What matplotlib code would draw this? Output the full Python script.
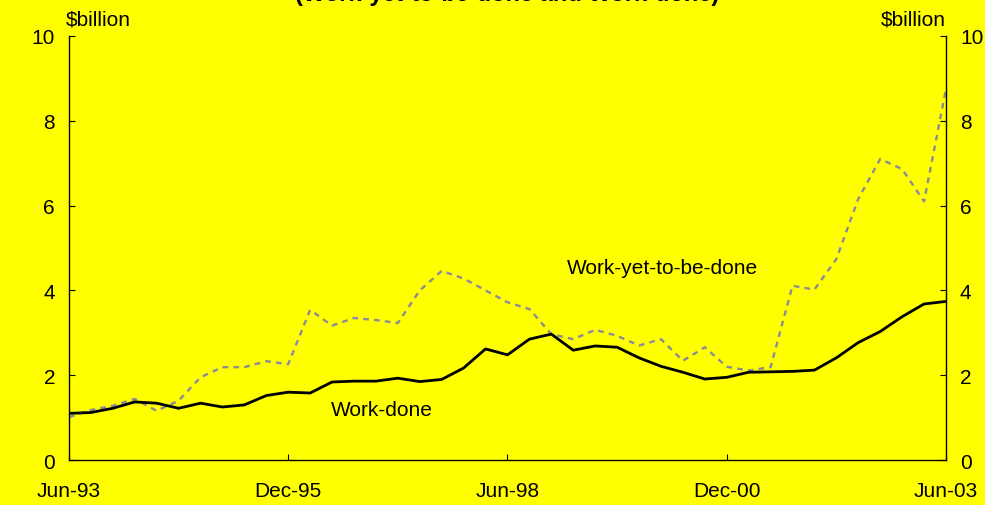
import numpy as np
import pandas as pd
import matplotlib
matplotlib.use("Agg")
import matplotlib.pyplot as plt

plt.rcParams['font.family'] = ['Liberation Sans', 'DejaVu Sans']

# quarterly, Jun-93 .. Jun-03
quarters = pd.period_range('1993Q2', '2003Q2', freq='Q')
work_done = [1.10, 1.12, 1.22, 1.37, 1.34, 1.22, 1.34, 1.25, 1.30, 1.52,
             1.60, 1.58, 1.84, 1.86, 1.86, 1.93, 1.85, 1.90, 2.17, 2.62,
             2.48, 2.85, 2.97, 2.59, 2.69, 2.66, 2.41, 2.21, 2.07, 1.91,
             1.95, 2.07, 2.08, 2.09, 2.12, 2.41, 2.77, 3.03, 3.38, 3.68,
             3.74]
work_yet = [1.01, 1.18, 1.28, 1.44, 1.16, 1.40, 1.95, 2.19, 2.19, 2.33,
            2.26, 3.54, 3.17, 3.35, 3.30, 3.23, 4.00, 4.46, 4.28, 4.00,
            3.72, 3.56, 2.97, 2.85, 3.07, 2.93, 2.70, 2.85, 2.34, 2.66,
            2.20, 2.11, 2.19, 4.11, 4.02, 4.74, 6.16, 7.10, 6.86, 6.10,
            8.75]
tick_labels = ['Jun-93', 'Dec-95', 'Jun-98', 'Dec-00', 'Jun-03']
y_ticks = [0, 2, 4, 6, 8, 10]

x = np.arange(len(quarters))
xt = [i for i, q in enumerate(quarters) if q.strftime('%b-%y') in tick_labels]

yellow = '#FFFF00'
fig = plt.figure(figsize=(9.85, 5.06), dpi=100, facecolor=yellow)
ax = fig.add_axes([0.070, 0.0889, 0.8904, 0.838], facecolor=yellow)

ax.plot(x, work_yet, color='#8a8a98', lw=1.7, dashes=(2.4, 2.2))
ax.plot(x, work_done, color='black', lw=2.0)

ax.set_xlim(0, 40)
ax.set_ylim(0, 10)
ax.set_xticks(xt)
ax.set_xticklabels(tick_labels)
ax.set_yticks(y_ticks)
ax.tick_params(axis='x', direction='in', length=4.5, width=0.8, pad=15, labelsize=15)
ax.tick_params(axis='y', direction='in', length=4.5, width=0.8, labelsize=15,
               left=True, right=True, labelleft=True, labelright=True, pad=10)
ax.spines['top'].set_visible(False)
for s in ['left', 'right', 'bottom']:
    ax.spines[s].set_linewidth(1.0)

ax.text(11.95, 1.20, 'Work-done', fontsize=15, va='center', ha='left')
ax.text(22.7, 4.55, 'Work-yet-to-be-done', fontsize=15, va='center', ha='left')

ax.text(-0.004, 1.028, '$billion', transform=ax.transAxes, fontsize=15,
        ha='left', va='baseline')
ax.text(1.0, 1.028, '$billion', transform=ax.transAxes, fontsize=15,
        ha='right', va='baseline')

fig.text(0.515, 1 - 1 / 506, '(Work-yet-to-be-done and Work-done)', fontsize=17,
         fontweight='bold', ha='center', va='baseline')

fig.savefig('out.png', dpi=100, facecolor=yellow)
